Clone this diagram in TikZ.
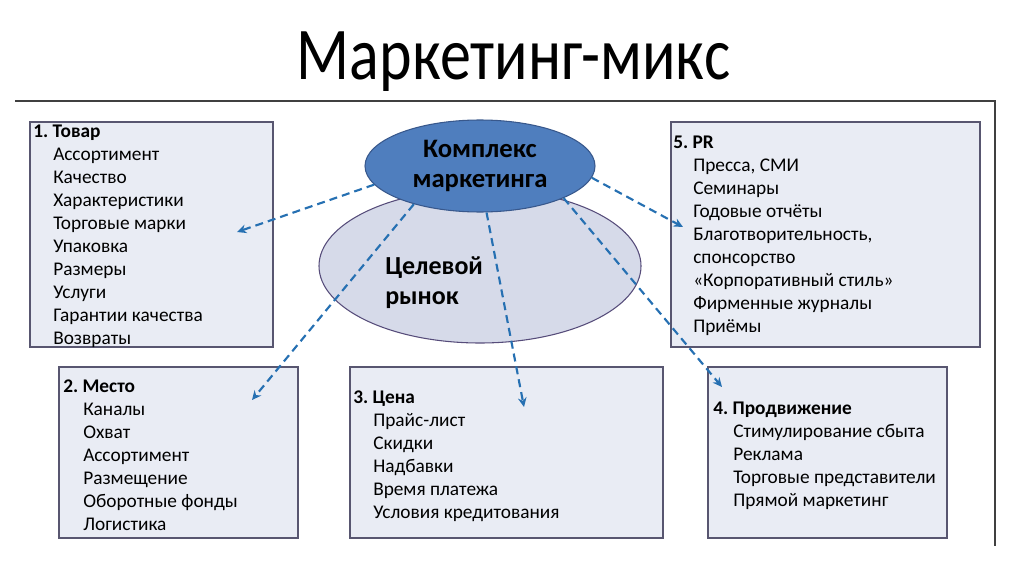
\documentclass[tikz,border=0pt]{standalone}
\usepackage{fontspec}
\setmainfont{Carlito}
\usetikzlibrary{arrows.meta, shapes.geometric, positioning}

\definecolor{boxfill}{RGB}{233,236,244}
\definecolor{boxline}{RGB}{88,86,112}
\definecolor{komplfill}{RGB}{79,126,190}
\definecolor{komplline}{RGB}{56,88,140}
\definecolor{rynokfill}{RGB}{214,218,233}
\definecolor{rynokline}{RGB}{86,76,122}
\definecolor{arrowblue}{RGB}{38,112,178}

\newcommand{\ind}{\hspace*{15pt}}
\frenchspacing

\tikzset{
  mixbox/.style={draw=boxline, fill=boxfill, line width=0.9pt, inner sep=0pt},
  mixlist/.style={anchor=north west, align=left, inner sep=0pt, font=\fontsize{14.5}{17.25}\selectfont},
  mixarrow/.style={draw=arrowblue, line width=1.6pt, dash pattern=on 6pt off 3.8pt, -{Stealth[length=7pt,width=6.5pt]}}
}

\begin{document}
\begin{tikzpicture}[x=0.75pt,y=-0.75pt]
\useasboundingbox (0,0) rectangle (1024,574);

% Title and frame
\node[anchor=base, inner sep=0pt] (title) at (513.5,80) {\fontsize{46.5}{50}\selectfont\scalebox{1}[1.2]{Маркетинг-микс}};
\draw[line width=1.1pt, black!75] (15,101) -- (995,101) -- (995,546);

% Boxes
\node[mixbox, minimum width=182.25pt, minimum height=168.75pt] (tovar) at (151.5,234.5) {};
\node[mixbox, minimum width=231.75pt, minimum height=168.75pt] (pr) at (825.5,234.5) {};
\node[mixbox, minimum width=179.25pt, minimum height=128.25pt] (mesto) at (178.5,452.5) {};
\node[mixbox, minimum width=234.75pt, minimum height=128.25pt] (cena) at (506.5,452.5) {};
\node[mixbox, minimum width=179.25pt, minimum height=128.25pt] (prodv) at (827.5,452.5) {};

% Box texts
\node[mixlist] (tovarlist) at (33,125) {\textbf{1. Товар}\\ \ind Ассортимент\\ \ind Качество\\ \ind Характеристики\\ \ind Торговые марки\\ \ind Упаковка\\ \ind Размеры\\ \ind Услуги\\ \ind Гарантии качества\\ \ind Возвраты};
\node[mixlist] (prlist) at (673,136) {\textbf{5. PR}\\ \ind Пресса, СМИ\\ \ind Семинары\\ \ind Годовые отчёты\\ \ind Благотворительность,\\ \ind спонсорство\\ \ind «Корпоративный стиль»\\ \ind Фирменные журналы\\ \ind Приёмы};
\node[mixlist] (mestolist) at (63,380) {\textbf{2. Место}\\ \ind Каналы\\ \ind Охват\\ \ind Ассортимент\\ \ind Размещение\\ \ind Оборотные фонды\\ \ind Логистика};
\node[mixlist] (cenalist) at (353,391) {\textbf{3. Цена}\\ \ind Прайс-лист\\ \ind Скидки\\ \ind Надбавки\\ \ind Время платежа\\ \ind Условия кредитования};
\node[mixlist] (prodvlist) at (713,402) {\textbf{4. Продвижение}\\ \ind Стимулирование сбыта\\ \ind Реклама\\ \ind Торговые представители\\ \ind Прямой маркетинг};

% Ellipses
\node[ellipse, draw=rynokline, fill=rynokfill, line width=0.8pt, minimum width=241.5pt, minimum height=115.5pt] (rynok) at (480,266) {};
\node[anchor=west, align=left, inner sep=0pt, font=\bfseries\fontsize{19.5}{22.5}\selectfont] (celevoy) at (385,283) {Целевой\\рынок};
\node[ellipse, draw=komplline, fill=komplfill, line width=0.8pt, minimum width=172.5pt, minimum height=69pt, inner sep=0pt, align=center, font=\bfseries\fontsize{20}{22.5}\selectfont] (kompl) at (480,166) {Комплекс\\маркетинга};

% Arrows
\coordinate (t1) at (237,232);
\coordinate (t2) at (252,400);
\coordinate (t3) at (524,407);
\coordinate (t4) at (722,387);
\coordinate (t5) at (683,227);
\draw[mixarrow] (kompl.190) -- (t1);
\draw[mixarrow] (kompl.210) -- (t2);
\draw[mixarrow] (kompl.278) -- (t3);
\draw[mixarrow] (kompl.339) -- (t4);
\draw[mixarrow] (kompl.354) -- (t5);
\end{tikzpicture}
\end{document}
